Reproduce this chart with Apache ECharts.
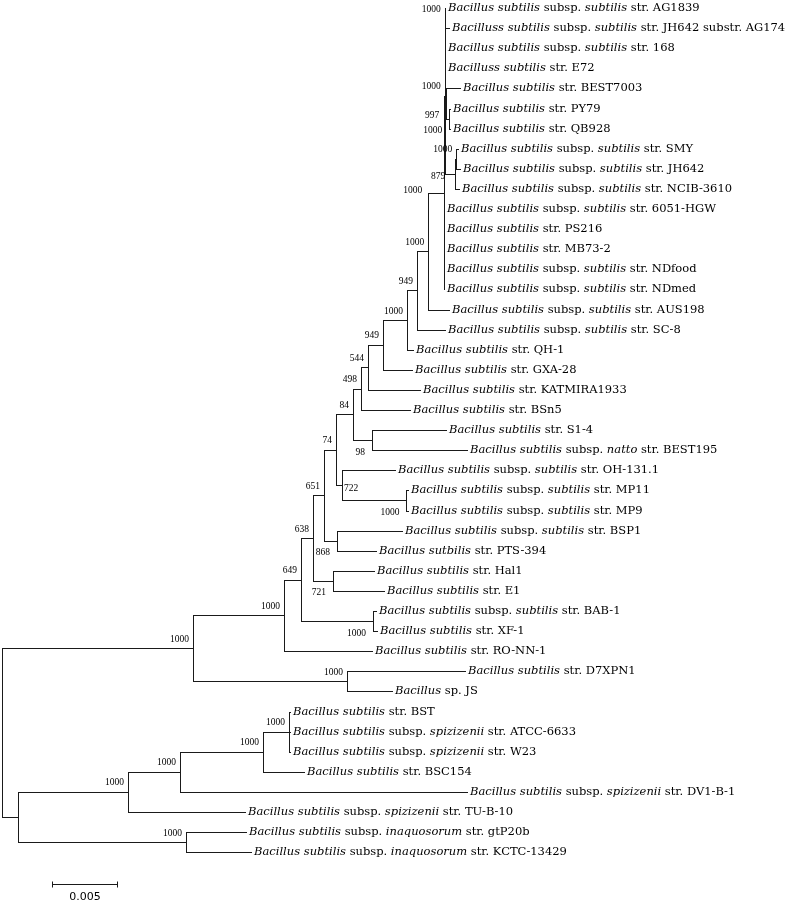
<!DOCTYPE html>
<html>
<head>
<meta charset="utf-8">
<script src="https://cdn.jsdelivr.net/npm/echarts@6.0.0/dist/echarts.min.js"></script>
<style>
html,body{margin:0;padding:0;background:#fff;}
#chart{width:787px;height:904px;}
</style>
</head>
<body>
<div id="chart"></div>
<script>
// ---------------- DATA ----------------
// Leaves in display order (top to bottom); *...* marks italic text
const leafNames = [
  '*Bacillus subtilis* subsp. *subtilis* str. AG1839',
  '*Bacilluss subtilis* subsp. *subtilis* str. JH642 substr. AG174',
  '*Bacillus subtilis* subsp. *subtilis* str. 168',
  '*Bacilluss subtilis* str. E72',
  '*Bacillus subtilis* str. BEST7003',
  '*Bacillus subtilis* str. PY79',
  '*Bacillus subtilis* str. QB928',
  '*Bacillus subtilis* subsp. *subtilis* str. SMY',
  '*Bacillus subtilis* subsp. *subtilis* str. JH642',
  '*Bacillus subtilis* subsp. *subtilis* str. NCIB-3610',
  '*Bacillus subtilis* subsp. *subtilis* str. 6051-HGW',
  '*Bacillus subtilis* str. PS216',
  '*Bacillus subtilis* str. MB73-2',
  '*Bacillus subtilis* subsp. *subtilis* str. NDfood',
  '*Bacillus subtilis* subsp. *subtilis* str. NDmed',
  '*Bacillus subtilis* subsp. *subtilis* str. AUS198',
  '*Bacillus subtilis* subsp. *subtilis* str. SC-8',
  '*Bacillus subtilis* str. QH-1',
  '*Bacillus subtilis* str. GXA-28',
  '*Bacillus subtilis* str. KATMIRA1933',
  '*Bacillus subtilis* str. BSn5',
  '*Bacillus subtilis* str. S1-4',
  '*Bacillus subtilis* subsp. *natto* str. BEST195',
  '*Bacillus subtilis* subsp. *subtilis* str. OH-131.1',
  '*Bacillus subtilis* subsp. *subtilis* str. MP11',
  '*Bacillus subtilis* subsp. *subtilis* str. MP9',
  '*Bacillus subtilis* subsp. *subtilis* str. BSP1',
  '*Bacillus sutbilis* str. PTS-394',
  '*Bacillus subtilis* str. Hal1',
  '*Bacillus subtilis* str. E1',
  '*Bacillus subtilis* subsp. *subtilis* str. BAB-1',
  '*Bacillus subtilis* str. XF-1',
  '*Bacillus subtilis* str. RO-NN-1',
  '*Bacillus subtilis* str. D7XPN1',
  '*Bacillus* sp. JS',
  '*Bacillus subtilis* str. BST',
  '*Bacillus subtilis* subsp. *spizizenii* str. ATCC-6633',
  '*Bacillus subtilis* subsp. *spizizenii* str. W23',
  '*Bacillus subtilis* str. BSC154',
  '*Bacillus subtilis* subsp. *spizizenii* str. DV1-B-1',
  '*Bacillus subtilis* subsp. *spizizenii* str. TU-B-10',
  '*Bacillus subtilis* subsp. *inaquosorum* str. gtP20b',
  '*Bacillus subtilis* subsp. *inaquosorum* str. KCTC-13429'
];
const leafParent = [
  'NAG','NAG','NX','NX','NBEST','NPY','NPY','NSMY','NSMY','N879',
  'Ntop','Ntop','Ntop','Ntop','Ntop','N1000d','N949a','N407','N949b','N544',
  'N498','N98','N98','N722','NMP','NMP','N868','N868','N721','N721',
  'NBAB','NBAB','B','C','C','O4','O4','O4','O3','O2',
  'O1','O5','O5'
];
const leafLength = [
  0.00004,0.00035,0.00004,0.00004,0.00108,0.00008,0.00008,0.00015,0.00031,0.00031,
  0.00000,0.00000,0.00000,0.00000,0.00000,0.00162,0.00215,0.00046,0.00223,0.00400,
  0.00377,0.00569,0.00731,0.00408,0.00012,0.00015,0.00500,0.00300,0.00315,0.00392,
  0.00023,0.00031,0.00677,0.00908,0.00346,0.00008,0.00008,0.00008,0.00315,0.02208,
  0.00900,0.00462,0.00500
];
// Internal nodes (clades)
const cladeIds     = ['root','A','B','N649','N638','N651','N74','N84','N498','N544','N949b','N407','N949a','N1000d','Ntop','NX','NAG','NBEST','NPY','N879','NSMY','N98','N722','NMP','N868','N721','NBAB','C','O','O1','O2','O3','O4','O5'];
const cladeParent  = [null,'root','A','B','N649','N638','N651','N74','N84','N498','N544','N949b','N407','N949a','N1000d','Ntop','NX','NX','NBEST','NX','N879','N84','N74','N722','N651','N638','N649','A','root','O','O1','O2','O3','O'];
const cladeLength  = [0,0.01469,0.00700,0.00131,0.00092,0.00085,0.00092,0.00131,0.00062,0.00054,0.00115,0.00185,0.00077,0.00085,0.00123,0.00004,0.00000,0.00012,0.00023,0.00081,0.00008,0.00146,0.00046,0.00496,0.00100,0.00154,0.00554,0.01185,0.00123,0.00846,0.00400,0.00638,0.00200,0.01292];
const cladeSupport = [null,1000,1000,649,638,651,74,84,498,544,949,1000,949,1000,1000,1000,1000,997,1000,879,1000,98,722,1000,868,721,1000,1000,null,1000,1000,1000,1000,1000];
const scaleBarLength = 0.005;
const scaleBarLabel = '0.005';

// ---------------- STYLE / LAYOUT ----------------
const LINE = '#1a1a1a';
const LEAF_FONT = '"DejaVu Serif", serif';
const LEAF_SIZE = 11.5;
const BS_FONT = '"Liberation Serif", serif';
const BS_SIZE = 9.5;
const ROW = 20.1;
const GRID = {left: 2, top: 8, width: 780, height: 44 * ROW};
const X_MAX = 0.06;
const Y_MAX = 44;
const SCALE_POS = {left: 52, top: 884};
// where each support value sits relative to its node
const labelPlace = {NBEST:'below', NPY:'below', N98:'below', N868:'below', N721:'below', NMP:'below', NBAB:'below', N722:'right', N879:'left', Ntop:'far'};
const placeOffset = {
  above: {dx: -4, dy: -9, align: 'right'},
  below: {dx: -7, dy: 12, align: 'right'},
  right: {dx: 2, dy: 3, align: 'left'},
  left:  {dx: -10, dy: 3, align: 'right'},
  far:   {dx: -22, dy: -2, align: 'right'}
};

// ---------------- TREE LAYOUT ----------------
const nodes = {};
cladeIds.forEach((id, i) => { nodes[id] = {id, parent: cladeParent[i], len: cladeLength[i], support: cladeSupport[i], children: []}; });
leafNames.forEach((n, i) => { const id = 'leaf' + i; nodes[id] = {id, parent: leafParent[i], len: leafLength[i], leaf: true, idx: i, y: i, children: []}; });
Object.values(nodes).forEach(n => { if (n.parent) nodes[n.parent].children.push(n); });
(function setX(n, px) { n.x = px + n.len; n.children.forEach(c => setX(c, n.x)); })(nodes.root, 0);
(function setY(n) {
  if (n.leaf) return n.y;
  const ys = n.children.map(setY);
  n.ymin = Math.min(...ys); n.ymax = Math.max(...ys); n.y = (n.ymin + n.ymax) / 2;
  return n.y;
})(nodes.root);

const segData = [];
Object.values(nodes).forEach(n => {
  if (n.parent) { const p = nodes[n.parent]; segData.push([p.x, n.x, n.y, n.y]); }
  if (!n.leaf) segData.push([n.x, n.x, n.ymin, n.ymax]);
});
const leafData = leafNames.map((_, i) => { const n = nodes['leaf' + i]; return [n.x, n.y, i]; });
const richNames = leafNames.map(s => s.replace(/\*([^*]+)\*/g, '{i|$1}'));
const supportNodes = cladeIds.map(id => nodes[id]).filter(n => n.support != null);
const supportData = supportNodes.map((n, i) => [n.x, n.y, i]);

const crisp = v => Math.round(v) + 0.5;

const chart = echarts.init(document.getElementById('chart'), null, {renderer: 'canvas'});
chart.setOption({
  animation: false,
  backgroundColor: '#fff',
  grid: GRID,
  xAxis: {type: 'value', min: 0, max: X_MAX, show: false},
  yAxis: {type: 'value', min: 0, max: Y_MAX, inverse: true, show: false},
  series: [
    {
      type: 'custom', name: 'branches', clip: false, silent: true,
      dimensions: ['x1','x2','y1','y2'], encode: {x: [0,1], y: [2,3]},
      data: segData,
      renderItem: (params, api) => {
        const a = api.coord([api.value(0), api.value(2)]);
        const b = api.coord([api.value(1), api.value(3)]);
        return {type: 'line', shape: {x1: crisp(a[0]), y1: crisp(a[1]), x2: crisp(b[0]), y2: crisp(b[1])},
          style: {stroke: LINE, lineWidth: 1, lineCap: 'square'}};
      }
    },
    {
      type: 'custom', name: 'leaves', clip: false, silent: true,
      dimensions: ['x','y','i'], encode: {x: 0, y: 1},
      data: leafData,
      renderItem: (params, api) => {
        const p = api.coord([api.value(0), api.value(1)]);
        return {type: 'text', x: Math.round(p[0]) + 3, y: Math.round(p[1]) + 0.5,
          style: {text: richNames[api.value(2)], fontFamily: LEAF_FONT, fontSize: LEAF_SIZE, fill: '#000',
            align: 'left', verticalAlign: 'middle',
            rich: {i: {fontStyle: 'italic', fontFamily: LEAF_FONT, fontSize: LEAF_SIZE, fill: '#000'}}}};
      }
    },
    {
      type: 'custom', name: 'support', clip: false, silent: true,
      dimensions: ['x','y','i'], encode: {x: 0, y: 1},
      data: supportData,
      renderItem: (params, api) => {
        const n = supportNodes[api.value(2)];
        const p = api.coord([api.value(0), api.value(1)]);
        const o = placeOffset[labelPlace[n.id] || 'above'];
        return {type: 'text', x: p[0] + o.dx, y: p[1] + o.dy,
          style: {text: String(n.support), fontFamily: BS_FONT, fontSize: BS_SIZE, fill: '#000',
            align: o.align, verticalAlign: 'middle'}};
      }
    },
    {
      type: 'custom', name: 'scale', clip: false, silent: true,
      dimensions: ['len'], encode: {x: 0},
      data: [[scaleBarLength]],
      renderItem: (params, api) => {
        const w = api.size([api.value(0), 0])[0];
        const x0 = SCALE_POS.left + 0.5, x1 = Math.round(SCALE_POS.left + w) + 0.5, y = SCALE_POS.top + 0.5;
        return {type: 'group', children: [
          {type: 'line', shape: {x1: x0, y1: y, x2: x1, y2: y}, style: {stroke: LINE, lineWidth: 1}},
          {type: 'line', shape: {x1: x0, y1: y - 3, x2: x0, y2: y + 3}, style: {stroke: LINE, lineWidth: 1}},
          {type: 'line', shape: {x1: x1, y1: y - 3, x2: x1, y2: y + 3}, style: {stroke: LINE, lineWidth: 1}},
          {type: 'text', x: (x0 + x1) / 2, y: y + 13,
            style: {text: scaleBarLabel, fontFamily: '"DejaVu Sans", sans-serif', fontSize: 11, fill: '#000', align: 'center', verticalAlign: 'middle'}}
        ]};
      }
    }
  ]
});
</script>
</body>
</html>
